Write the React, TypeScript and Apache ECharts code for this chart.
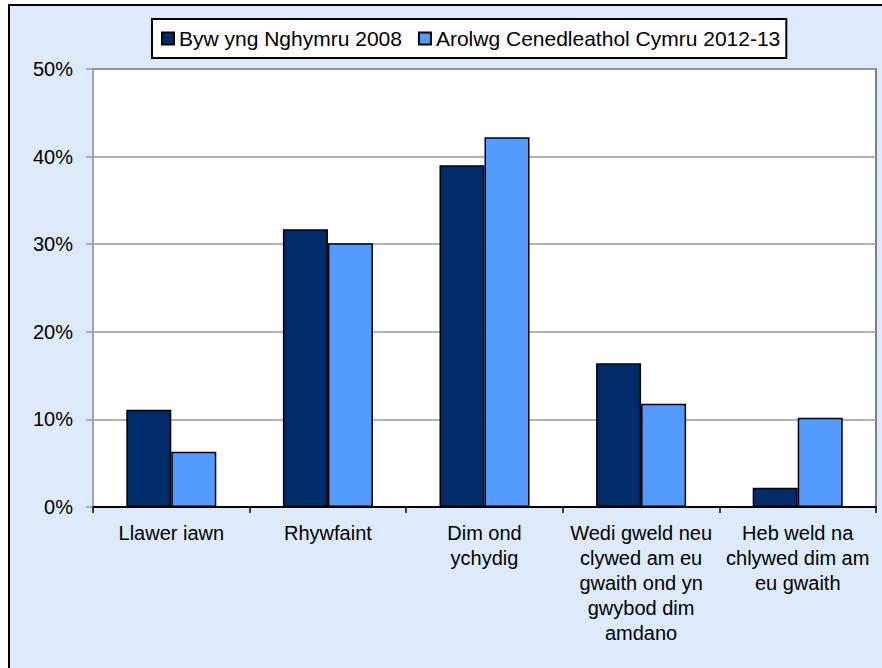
import React, { useEffect, useRef } from "react";
import * as echarts from "echarts";

const categories = [
  "Llawer iawn",
  "Rhywfaint",
  "Dim ond\nychydig",
  "Wedi gweld neu\nclywed am eu\ngwaith ond yn\ngwybod dim\namdano",
  "Heb weld na\nchlywed dim am\neu gwaith",
];
const seriesNames = ["Byw yng Nghymru 2008", "Arolwg Cenedleathol Cymru 2012-13"];
const values2008 = [11.1, 31.7, 39.0, 16.4, 2.2];
const values2012 = [6.3, 30.1, 42.2, 11.8, 10.2];
const yTicks = { min: 0, max: 50, interval: 10 };

const FONT = 'Arial, "Liberation Sans", sans-serif';

export default function App() {
  const ref = useRef<HTMLDivElement>(null);
  useEffect(() => {
    if (!ref.current) return;
    const chart = echarts.init(ref.current, null, { renderer: "svg" });
    chart.setOption({
      animation: false,
      backgroundColor: "#ffffff",
      textStyle: { fontFamily: FONT },
      graphic: [
        {
          type: "rect",
          z: -10,
          zlevel: 0,
          silent: true,
          shape: { x: 9, y: 5, width: 900, height: 700 },
          style: { fill: "#DCEAFC", stroke: "#000000", lineWidth: 2 },
        },
      ],
      legend: {
        left: 152,
        top: 19,
        padding: [9, 6, 9, 9],
        itemWidth: 12,
        itemHeight: 12,
        itemGap: 16,
        backgroundColor: "#ffffff",
        borderColor: "#000000",
        borderWidth: 2,
        borderRadius: 0,
        icon: "rect",
        textStyle: { fontSize: 21, color: "#000", fontFamily: FONT },
        data: seriesNames,
      },
      grid: {
        left: 93,
        right: 6,
        top: 69,
        bottom: 161,
        show: true,
        backgroundColor: "#ffffff",
        borderColor: "#808080",
        borderWidth: 2,
        z: 0,
      },
      xAxis: {
        type: "category",
        data: categories,
        axisLine: { lineStyle: { color: "#000", width: 2 } },
        axisTick: { show: true, alignWithLabel: false, length: 6, lineStyle: { color: "#000", width: 1.5 } },
        axisLabel: {
          interval: 0,
          margin: 13,
          fontSize: 20,
          lineHeight: 25,
          color: "#000",
          fontFamily: FONT,
          align: "center",
        },
      },
      yAxis: {
        type: "value",
        min: yTicks.min,
        max: yTicks.max,
        interval: yTicks.interval,
        axisLine: { show: true, lineStyle: { color: "#9ca3ab", width: 2 } },
        axisTick: { show: true, length: 7, lineStyle: { color: "#9a9a9a", width: 1.5 } },
        axisLabel: {
          formatter: "{value}%",
          margin: 20,
          fontSize: 20,
          color: "#000",
          fontFamily: FONT,
        },
        splitLine: { show: true, lineStyle: { color: "#999999", width: 1.5 } },
      },
      series: [
        {
          name: seriesNames[0],
          type: "bar",
          data: values2008,
          barWidth: 45,
          barGap: "0%",
          itemStyle: { color: "#002D69", borderColor: "#000", borderWidth: 1.5 },
        },
        {
          name: seriesNames[1],
          type: "bar",
          data: values2012,
          barWidth: 45,
          barGap: "0%",
          itemStyle: { color: "#539BFF", borderColor: "#000", borderWidth: 1.5 },
        },
      ],
    });
    return () => chart.dispose();
  }, []);
  return (
    <div
      ref={ref}
      style={{ position: "fixed", left: 0, top: 0, width: 882, height: 668 }}
    />
  );
}
